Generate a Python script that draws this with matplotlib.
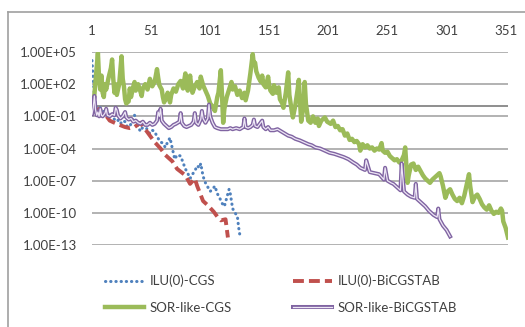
# Residual history of four solvers (log scale), Excel-style chart

import numpy as np
from matplotlib import pyplot as plt
from matplotlib import patheffects as pe
from matplotlib.lines import Line2D

plt.rcParams['font.family'] = ['Lato', 'DejaVu Sans']

# Data: iteration numbers and log10 of the residual
ilu_cgs_it = [1, 2, 3, 4, 5, 8, 11, 14, 16, 18, 20, 22, 25, 27, 29, 31, 33, 35, 37, 39,
              42, 44, 46, 48, 50, 52, 54, 56, 59, 61, 63, 65, 67, 69, 71, 73, 76, 78, 80, 82,
              84, 86, 88, 90, 92, 93, 95, 97, 99, 101, 103, 105, 107, 109, 111, 113, 115, 117,
              118, 120, 122, 124, 125, 126]
ilu_cgs_log = [4.2, 2.5, 1.0, 0.0, -0.3, -0.2, -0.6, -0.7, -0.9, -0.8, -1.3, -1.2, -1.7, -1.4,
               -1.5, -2.0, -1.9, -1.5, -0.9, -1.8, -2.4, -2.0, -1.7, -2.4, -2.6, -2.3, -2.4,
               -2.9, -3.4, -3.5, -3.9, -3.4, -3.0, -4.0, -5.0, -4.6, -4.7, -5.3, -5.9, -6.3,
               -6.8, -6.4, -6.1, -5.6, -5.8, -5.4, -6.6, -7.2, -7.6, -8.0, -7.8, -7.5, -8.2,
               -8.6, -9.1, -9.4, -8.6, -7.8, -8.2, -9.6, -10.0, -10.3, -11.3, -12.0]

ilu_bicg_it = [1, 3, 5, 8, 12, 16, 22, 29, 33, 37, 42, 46, 50, 54, 59, 63, 69, 73, 80, 84,
               88, 90, 95, 99, 104, 108, 110, 114, 116]
ilu_bicg_log = [0.6, -0.3, 0.0, -0.9, -0.8, -1.4, -1.7, -2.0, -2.1, -2.0, -1.6, -2.2, -2.8,
                -3.4, -4.0, -4.6, -5.2, -5.9, -6.5, -7.3, -6.8, -7.5, -8.9, -9.3, -9.9, -10.5,
                -10.7, -10.6, -12.3]

sor_cgs_it = [1, 3, 6, 7, 8, 9, 10, 11, 12, 13, 15, 17, 18, 19, 20, 21, 22, 24, 26, 27,
              28, 29, 30, 32, 33, 34, 36, 37, 38, 40, 42, 43, 44, 46, 48, 50, 52, 54, 56, 57,
              58, 60, 61, 62, 64, 65, 67, 68, 70, 72, 74, 76, 78, 80, 81, 82, 84, 85, 86, 88,
              90, 92, 93, 95, 97, 99, 101, 103, 105, 107, 108, 110, 111, 112, 113, 115, 117, 119,
              120, 122, 124, 126, 128, 130, 131, 133, 135, 137, 138, 139, 140, 142, 144, 145,
              146, 148, 150, 151, 152, 154, 155, 157, 159, 160, 162, 163, 165, 167, 168, 170,
              171, 173, 175, 176, 177, 178, 180, 181, 182, 184, 186, 188, 190, 192, 193, 195,
              198, 200, 203, 205, 207, 209, 211, 213, 215, 217, 219, 221, 223, 225, 227, 228,
              230, 232, 234, 236, 238, 240, 242, 244, 246, 247, 249, 251, 253, 255, 257, 259,
              261, 263, 265, 266, 267, 268, 269, 271, 273, 275, 277, 279, 281, 283, 285, 287,
              289, 291, 293, 295, 296, 298, 300, 302, 304, 306, 308, 310, 312, 314, 316, 318,
              320, 321, 323, 325, 327, 329, 331, 333, 335, 337, 339, 341, 343, 345, 347, 348,
              349, 351, 353]
sor_cgs_log = [-0.6, 1.0, 4.9, 2.5, 1.5, 2.8, 1.2, 0.8, 2.0, 1.5, 2.6, 3.5, 4.3, 2.5, 1.2,
               2.0, 1.0, 2.0, 4.6, 2.5, 1.8, 0.6, 0.2, 0.4, 1.6, 0.8, 1.8, 2.2, 1.4, 2.0, 1.3,
               0.9, 1.6, 2.0, 1.5, 2.5, 1.8, 2.2, 3.4, 2.6, 1.9, 1.5, 0.8, 0.3, 0.8, 1.2, 0.3,
               1.0, 1.6, 1.3, 2.0, 2.3, 1.6, 3.0, 2.0, 1.4, 2.8, 1.8, 1.2, 1.8, 2.2, 1.6, 2.7,
               1.9, 1.4, 0.9, 0.2, -0.1, -0.5, 0.8, 1.2, 3.3, 1.0, -1.6, -0.3, 0.8, 1.5, 2.2,
               1.5, 1.8, 1.0, 1.4, 0.7, 1.2, 0.5, 1.4, 3.0, 4.8, 3.8, 4.0, 3.2, 2.6, 2.2, 2.8,
               2.0, 1.7, 2.7, 1.8, 1.4, 1.1, 1.9, 1.2, 1.7, 0.6, 0.2, -0.2, 1.2, 3.1, 1.0, -0.5,
               -1.1, 0.0, 1.5, 2.4, 0.5, -1.5, 0.0, 2.2, 0.2, -1.4, -1.6, -1.0, -1.6, -1.2, -1.9,
               -1.4, -1.1, -1.5, -1.7, -1.4, -2.0, -1.9, -2.3, -2.2, -2.8, -2.6, -3.2, -3.1,
               -3.4, -3.3, -3.6, -4.2, -3.6, -3.9, -3.7, -4.0, -3.9, -4.2, -4.0, -4.1, -3.5,
               -4.2, -4.4, -4.3, -4.7, -4.9, -5.1, -5.0, -5.3, -5.1, -4.6, -3.9, -5.5, -7.2,
               -6.5, -5.5, -5.4, -6.0, -5.7, -6.1, -6.5, -6.8, -7.0, -7.2, -6.9, -6.7, -6.5,
               -6.3, -6.6, -7.5, -8.6, -8.0, -7.8, -8.3, -8.7, -8.9, -8.6, -9.1, -8.4, -7.4,
               -6.4, -7.5, -9.0, -8.5, -8.3, -8.7, -9.2, -9.5, -9.7, -9.3, -9.8, -10.1, -9.9,
               -10.0, -9.6, -9.8, -10.8, -11.4, -12.3]

sor_bicg_it = [1, 2, 3, 4, 5, 6, 7, 8, 9, 10, 12, 13, 14, 16, 18, 20, 21, 22, 23, 25, 27,
               29, 30, 32, 34, 36, 38, 40, 42, 44, 46, 48, 50, 52, 54, 56, 57, 58, 59, 60, 62,
               64, 66, 68, 70, 72, 75, 76, 77, 79, 81, 83, 85, 87, 88, 89, 91, 93, 94, 95, 97,
               99, 100, 101, 103, 105, 107, 110, 113, 116, 118, 120, 123, 126, 129, 130, 131,
               133, 135, 137, 138, 139, 141, 143, 145, 146, 148, 150, 152, 155, 158, 161, 164,
               167, 170, 173, 177, 180, 184, 187, 190, 194, 198, 202, 206, 210, 214, 218, 222,
               225, 228, 232, 233, 236, 240, 244, 248, 249, 251, 254, 256, 262, 263, 265, 268,
               271, 274, 275, 276, 279, 283, 286, 290, 293, 294, 295, 298, 301, 303, 304]
sor_bicg_log = [-0.8, -0.2, 0.9, -0.4, -0.9, -0.6, -1.0, -0.3, -0.9, -1.0, -0.7, -0.3, -0.9,
                -1.0, -0.8, -0.9, -0.2, -0.4, -0.9, -1.2, -1.0, -0.6, -1.1, -1.3, -1.2, -1.5,
                -1.4, -1.6, -1.7, -1.5, -1.8, -1.8, -1.6, -1.8, -1.7, -1.4, -0.6, -1.0, -0.3,
                -1.4, -1.7, -1.9, -2.1, -2.0, -1.8, -1.7, -1.5, -0.7, -1.6, -1.9, -2.0, -1.9,
                -1.8, -1.5, -0.7, -1.6, -1.8, -1.3, -0.5, -1.2, -1.6, -1.2, 0.1, -1.0, -1.6,
                -2.0, -2.1, -2.2, -2.2, -2.2, -2.1, -2.2, -2.1, -2.2, -2.0, -1.2, -2.0, -2.1,
                -2.0, -1.8, -1.3, -1.9, -2.0, -1.7, -1.4, -2.0, -2.2, -2.0, -2.3, -2.3, -2.2,
                -2.4, -2.6, -2.8, -2.9, -3.1, -3.25, -3.4, -3.6, -3.7, -3.9, -4.0, -4.2, -4.4,
                -4.5, -4.65, -4.8, -5.0, -5.3, -5.5, -5.8, -6.0, -5.1, -6.2, -6.3, -6.4, -6.9,
                -5.8, -7.0, -7.2, -7.3, -7.9, -5.4, -8.0, -8.3, -8.5, -8.6, -7.3, -8.7, -9.0,
                -9.4, -9.8, -10.2, -10.4, -9.6, -10.6, -11.2, -11.6, -12.0, -12.2]

ytick_vals = [5, 2, -1, -4, -7, -10, -13]
ytick_labels = ['1.00E+05', '1.00E+02', '1.00E-01', '1.00E-04', '1.00E-07', '1.00E-10', '1.00E-13']
xtick_vals = [1, 51, 101, 151, 201, 251, 301, 351]

# Plot
fig = plt.figure(figsize=(5.25, 3.27), dpi=100)
ax = fig.add_axes([92/525, 1 - 245/327, 416/525, 193/327])

l_blue, = ax.plot(ilu_cgs_it, 10.0**np.array(ilu_cgs_log), color='#4F81BD', lw=2.2,
                  ls=(0, (0.1, 1.6)), dash_capstyle='round', label='ILU(0)-CGS')
l_red, = ax.plot(ilu_bicg_it, 10.0**np.array(ilu_bicg_log), color='#C0504D', lw=2.8,
                 ls=(0, (2.8, 1.3)), label='ILU(0)-BiCGSTAB')
l_green, = ax.plot(sor_cgs_it, 10.0**np.array(sor_cgs_log), color='#9BBB59', lw=3.2,
                   solid_joinstyle='round', label='SOR-like-CGS')
l_purple, = ax.plot(sor_bicg_it, 10.0**np.array(sor_bicg_log), color='#EDE6F5', lw=0.9,
                    label='SOR-like-BiCGSTAB',
                    path_effects=[pe.Stroke(linewidth=2.9, foreground='#8064A2'), pe.Normal()])

ax.set_yscale('log')
ax.set_ylim(1e-13, 1e5)
ax.set_xlim(1, 353)
ax.set_yticks([10.0**v for v in ytick_vals])
ax.set_yticklabels(ytick_labels)
ax.yaxis.set_minor_locator(plt.NullLocator())
ax.set_xticks(xtick_vals)
ax.xaxis.tick_top()
ax.tick_params(length=0, labelsize=9.5, colors='#404040', pad=11)
ax.grid(axis='y', color='#A6A6A6', lw=1.2)
ax.set_axisbelow(True)
ax.axhline(1, color='#868686', lw=1.3, zorder=0.5)
for s in ax.spines.values():
    s.set_visible(False)

handles = [l_blue, l_green, l_red, l_purple]
fig.legend(handles=handles, labels=[h.get_label() for h in handles], ncol=2,
           loc='center', bbox_to_anchor=(0.535, 0.1), frameon=False, fontsize=9.5,
           handlelength=3.0, handletextpad=0.4, columnspacing=4.6, labelspacing=1.1,
           labelcolor='#404040')

# Chart area border (top and left parts visible)
fig.add_artist(Line2D([8/525, 8/525], [0, 1 - 12/327], color='#A0A0A0', lw=1.2))
fig.add_artist(Line2D([8/525, 1], [1 - 12/327, 1 - 12/327], color='#A0A0A0', lw=1.2))

fig.savefig('out.png', dpi=100)
